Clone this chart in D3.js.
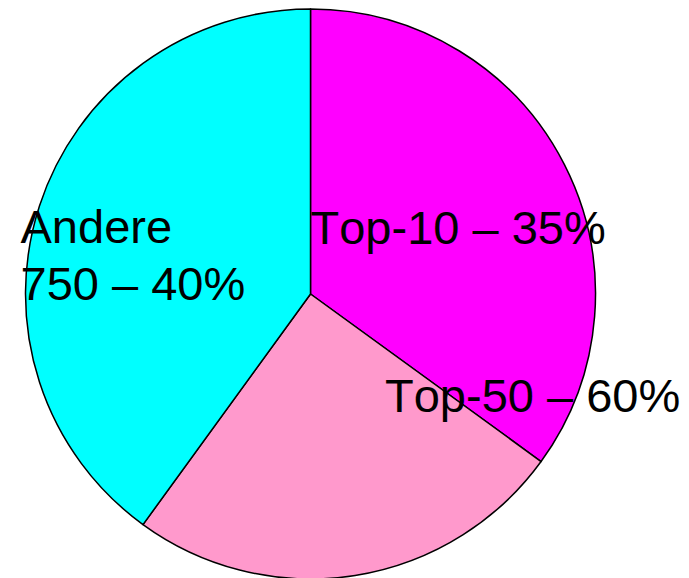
<!DOCTYPE html>
<html><head><meta charset="utf-8">
<script src="https://cdn.jsdelivr.net/npm/d3@7"></script>
<style>body{margin:0;background:#fff}svg{display:block}text{font-kerning:none}</style>
</head><body>
<svg id="c" width="689" height="578"></svg>
<script>
const categories = ["Top-10", "Top-50", "Andere"];
const values = [35, 25, 40];
const colors = ["#FF00FF", "#FF99CC", "#00FFFF"];
const labelLines = [["Top-10 – 35%"], ["Top-50 – 60%"], ["Andere", "750 – 40%"]];

const svg = d3.select("#c");
const cx = 310.5, cy = 294, r = 285;
const g = svg.append("g").attr("transform", `translate(${cx},${cy})`);
const pie = d3.pie().sort(null).value(d => d)(values);
const arc = d3.arc().innerRadius(0).outerRadius(r);
g.selectAll("path").data(pie).join("path")
  .attr("d", arc)
  .attr("fill", (d, i) => colors[i])
  .attr("stroke", "#000").attr("stroke-width", 1.5).attr("stroke-linejoin", "round");

// label anchor offsets relative to center (x start, first baseline)
const labelPos = [[0, -50], [74.5, 118], [-290, -51]];
const lineH = 57;
const lg = svg.append("g").attr("transform", `translate(${cx},${cy})`);
labelLines.forEach((lines, i) => {
  const t = lg.append("text")
    .attr("x", labelPos[i][0]).attr("y", labelPos[i][1])
    .attr("font-family", "Liberation Sans, Arial, sans-serif")
    .attr("font-size", 47).attr("fill", "#000");
  lines.forEach((s, j) => t.append("tspan").attr("x", labelPos[i][0]).attr("dy", j ? lineH : 0).text(s));
});
</script>
</body></html>
